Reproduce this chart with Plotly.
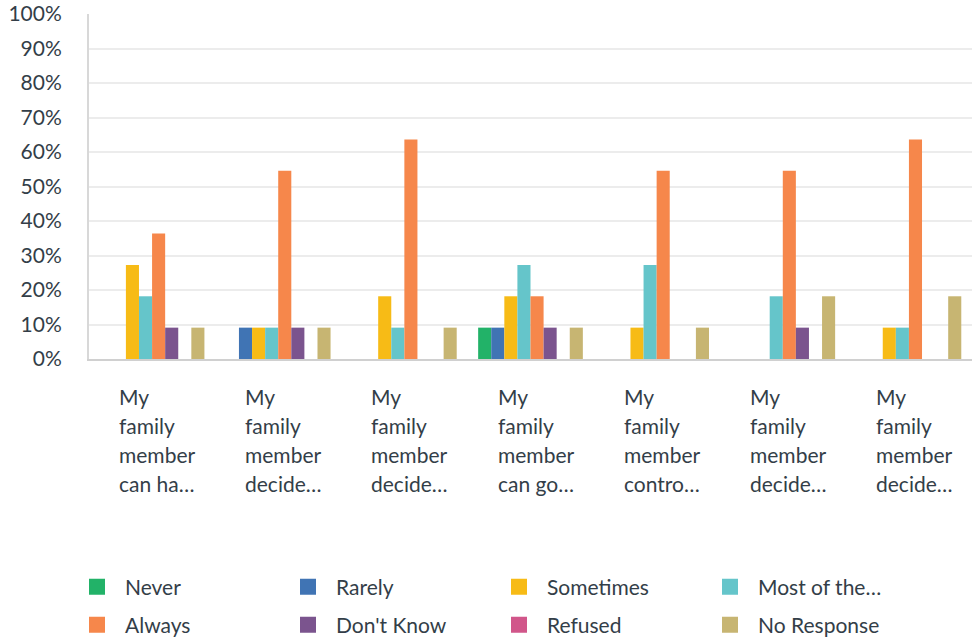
import plotly.graph_objects as go

categories = [
    "My\nfamily\nmember\ncan ha…",
    "My\nfamily\nmember\ndecide…",
    "My\nfamily\nmember\ndecide… ",
    "My\nfamily\nmember\ncan go…",
    "My\nfamily\nmember\ncontro…",
    "My\nfamily\nmember\ndecide…  ",
    "My\nfamily\nmember\ndecide…   ",
]
series_names = ["Never", "Rarely", "Sometimes", "Most of the…", "Always", "Don't Know", "Refused", "No Response"]
never      = [0, 0, 0, 9.09, 0, 0, 0]
rarely     = [0, 9.09, 0, 9.09, 0, 0, 0]
sometimes  = [27.27, 9.09, 18.18, 18.18, 9.09, 0, 9.09]
most       = [18.18, 9.09, 9.09, 27.27, 27.27, 18.18, 9.09]
always     = [36.36, 54.55, 63.64, 18.18, 54.55, 54.55, 63.64]
dont_know  = [9.09, 9.09, 0, 9.09, 0, 9.09, 0]
refused    = [0, 0, 0, 0, 0, 0, 0]
no_resp    = [9.09, 9.09, 9.09, 9.09, 9.09, 18.18, 18.18]
series_values = [never, rarely, sometimes, most, always, dont_know, refused, no_resp]
colors = ["#22B268", "#4074B4", "#F7BB16", "#65C5CA", "#F6874B", "#7B548E", "#D1568A", "#C7B572"]
y_ticks = [0, 10, 20, 30, 40, 50, 60, 70, 80, 90, 100]

FONT = "Lato, Roboto, sans-serif"
TXT = "#333e48"
W, H = 972, 640

fig = go.Figure()
for name, vals, col in zip(series_names, series_values, colors):
    fig.add_trace(go.Bar(
        x=categories, y=vals, name=name, marker_color=col,
        marker_line_width=0, showlegend=False, legendgroup=name,
    ))
# legend entries: first 4 in row one, last 4 in row two
for k, (name, col) in enumerate(zip(series_names, colors)):
    fig.add_trace(go.Scatter(
        x=[None], y=[None], mode="markers", name=name, legendgroup=name,
        legend="legend" if k < 4 else "legend2",
        marker=dict(symbol="square", size=16, color=col),
    ))

for cat in categories:
    for i, line in enumerate(cat.strip().split("\n")):
        fig.add_annotation(
            x=cat, y=0, xref="x", yref="paper", text=line, showarrow=False,
            xanchor="left", yanchor="top", xshift=-35, yshift=-23 - 29 * i,
            font=dict(family=FONT, size=21, color=TXT), align="left",
        )

legend_common = dict(orientation="h", xref="container", yref="container",
                     x=69 / W, xanchor="left", yanchor="middle",
                     entrywidth=150, entrywidthmode="pixels", traceorder="normal",
                     font=dict(family=FONT, size=21, color=TXT), itemwidth=46,
                     bgcolor="rgba(0,0,0,0)")

fig.update_layout(
    width=W, height=H,
    margin=dict(l=89, r=0, t=14, b=H - 359, autoexpand=False),
    plot_bgcolor="white", paper_bgcolor="white",
    barmode="group", bargap=0.17, bargroupgap=0,
    font=dict(family=FONT, size=21, color=TXT),
    xaxis=dict(showticklabels=False, showline=True, linecolor="#d0d0d0", linewidth=2,
               showgrid=False, ticks="", range=[-0.5, 6.5], automargin=False),
    yaxis=dict(range=[0, 100], tickvals=y_ticks, ticktext=[f"{v}%" for v in y_ticks],
               showgrid=True, gridcolor="#ececec", gridwidth=2, showline=True,
               linecolor="#d8d8d8", linewidth=2, zeroline=False, ticks="",
               ticklabelstandoff=21, tickfont=dict(size=21, color=TXT), automargin=False,
               ticklabeloverflow="allow"),
    legend=dict(legend_common, y=1 - 587 / H),
    legend2=dict(legend_common, y=1 - 625 / H),
    showlegend=True,
)

fig.write_html("out.html", config={"displayModeBar": False},
               post_script="document.body.style.margin='0px';")
